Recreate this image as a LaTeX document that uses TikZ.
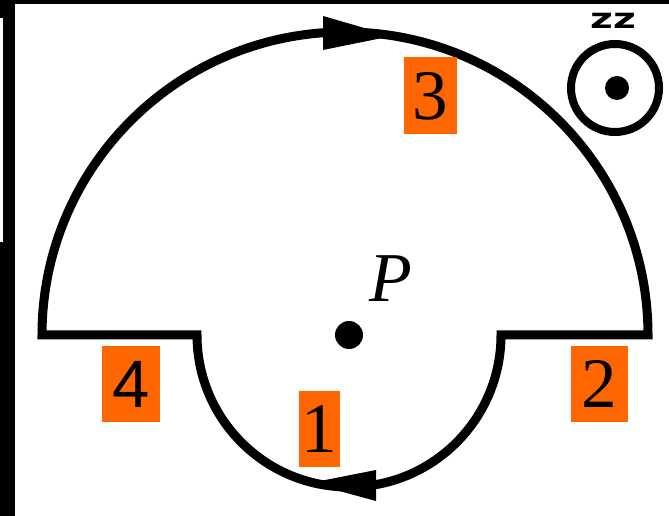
\documentclass[tikz,border=0pt]{standalone}
\usepackage{fontspec}
\setmainfont{Liberation Serif}
\newfontfamily\lsans{Liberation Sans}
\newfontfamily\dvsans{DejaVu Sans}
\definecolor{lblorange}{HTML}{FF6600}
\begin{document}
\begin{tikzpicture}[x=1pt,y=1pt,
  lbl/.style={fill=lblorange,inner sep=0pt,minimum height=76pt,font=\fontsize{71}{71}\selectfont},
  loopline/.style={line width=9pt,line join=miter}]
\useasboundingbox (0,0) rectangle (669,516);
% frame remnants
\fill[black] (0,0) rectangle (15,516);
\fill[black] (0,512) rectangle (669,516);
\fill[white] (0,274) rectangle (3,498);
% loop
\coordinate (innerL) at (197,181);
\coordinate (outerL) at (42,181);
\coordinate (innerR) at (501,181);
\draw[loopline] (innerL) -- (outerL) arc[start angle=180,end angle=0,radius=303] -- (innerR) arc[start angle=0,end angle=-180,radius=152] -- cycle;
% arrows
\fill[black] (323,500) -- (392,480) -- (323,466) -- cycle;
\fill[black] (376,46) -- (310,33) -- (376,15) -- cycle;
% point P
\fill[black] (349,181) circle[radius=14];
\node[font=\fontsize{70}{70}\selectfont\itshape] (P) at (391,237) {P};
% labels
\node[lbl,minimum width=41pt] (l1) at (319.5,87) {1};
\node[lbl,minimum width=57pt] (l2) at (599.5,132) {2};
\node[lbl,minimum width=53pt,minimum height=77pt] (l3) at (430.5,420) {3};
\node[lbl,minimum width=58pt,font=\fontsize{67}{67}\selectfont\lsans] (l4) at (131,132) {4};
% out of page symbol
\node[inner sep=0pt,xscale=1.4,transform shape] (zz) at (613,495) {\fontsize{28}{28}\selectfont\dvsans\bfseries zz};
\draw[line width=8pt] (615,428) circle[radius=44];
\fill[black] (617,428) circle[radius=12];
\end{tikzpicture}
\end{document}
